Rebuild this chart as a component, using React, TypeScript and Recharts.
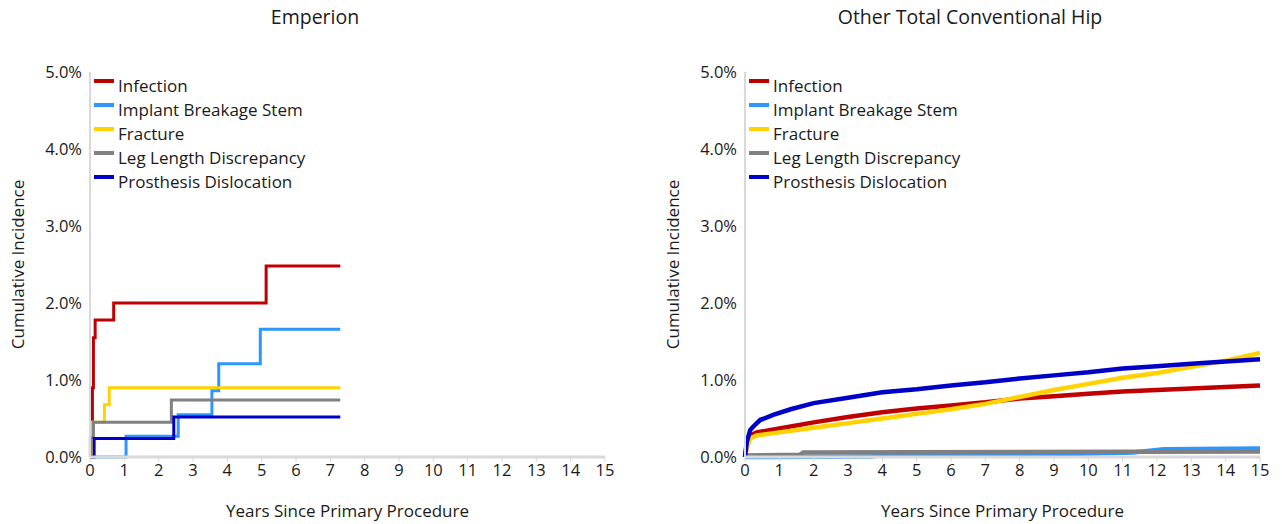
import React from "react";
import { LineChart, Line, XAxis, YAxis } from "recharts";

const seriesNames = ["Infection", "Implant Breakage Stem", "Fracture", "Leg Length Discrepancy", "Prosthesis Dislocation"];
const seriesColors = ["#C00000", "#2E96FF", "#FFD200", "#808080", "#0000C8"];
const xTicks = [0, 1, 2, 3, 4, 5, 6, 7, 8, 9, 10, 11, 12, 13, 14, 15];
const yTicks = [0, 1, 2, 3, 4, 5];

// Emperion (step curves)
const empInfectionX = [0, 0.07, 0.1, 0.15, 0.69, 5.13, 7.29];
const empInfectionY = [0, 0.9, 1.55, 1.78, 2.0, 2.48, 2.48];
const empStemX = [0, 1.05, 2.57, 3.55, 3.75, 4.96, 7.29];
const empStemY = [0, 0.27, 0.55, 0.86, 1.21, 1.66, 1.66];
const empFractureX = [0, 0.06, 0.42, 0.56, 7.29];
const empFractureY = [0, 0.45, 0.68, 0.9, 0.9];
const empLegX = [0, 0.01, 0.1, 2.37, 7.29];
const empLegY = [0, 0.25, 0.45, 0.74, 0.74];
const empDislocX = [0, 0.12, 2.44, 7.29];
const empDislocY = [0, 0.24, 0.52, 0.52];

// Other Total Conventional Hip
const othInfectionX = [0, 0.05, 0.15, 0.34, 1, 2, 3, 4, 5, 6, 7, 8, 9, 10, 11, 12, 13, 14, 15];
const othInfectionY = [0, 0.15, 0.28, 0.32, 0.37, 0.45, 0.52, 0.58, 0.63, 0.67, 0.71, 0.76, 0.79, 0.82, 0.85, 0.87, 0.89, 0.91, 0.93];
const othStemX = [0, 3.7, 3.8, 7.2, 8.8, 9.5, 11.3, 12.2, 15];
const othStemY = [0, 0.005, 0.015, 0.02, 0.03, 0.04, 0.06, 0.1, 0.11];
const othFractureX = [0, 0.05, 0.15, 0.34, 1, 2, 3, 4, 5, 6, 7, 8, 9, 10, 11, 12, 13, 14, 15];
const othFractureY = [0, 0.11, 0.24, 0.28, 0.32, 0.38, 0.44, 0.5, 0.56, 0.62, 0.69, 0.78, 0.87, 0.95, 1.03, 1.09, 1.17, 1.25, 1.35];
const othLegX = [0, 1.6, 1.7, 15];
const othLegY = [0.02, 0.03, 0.06, 0.07];
const othDislocX = [0, 0.05, 0.15, 0.25, 0.44, 0.84, 1.33, 2, 3, 4, 5, 6, 7, 8, 9, 10, 11, 12, 13, 14, 15];
const othDislocY = [0, 0.19, 0.35, 0.4, 0.48, 0.55, 0.62, 0.7, 0.77, 0.84, 0.88, 0.93, 0.97, 1.02, 1.06, 1.1, 1.15, 1.18, 1.21, 1.24, 1.27];

const zip = (xs: number[], ys: number[]) => xs.map((x, i) => ({ x, y: ys[i] }));

const empSeries = [
  zip(empInfectionX, empInfectionY),
  zip(empStemX, empStemY),
  zip(empFractureX, empFractureY),
  zip(empLegX, empLegY),
  zip(empDislocX, empDislocY),
];
const othSeries = [
  zip(othInfectionX, othInfectionY),
  zip(othStemX, othStemY),
  zip(othFractureX, othFractureY),
  zip(othLegX, othLegY),
  zip(othDislocX, othDislocY),
];

const FONT = "'Open Sans', 'Noto Sans', sans-serif";
const TXT = "#1a1a1a";

const LegendBox = () => (
  <div style={{ position: "absolute", left: 94, top: 74, fontFamily: FONT, fontSize: 17, color: TXT, lineHeight: "24px" }}>
    {seriesNames.map((n, i) => (
      <div key={n} style={{ display: "flex", alignItems: "center", height: 24, whiteSpace: "nowrap" }}>
        <div style={{ width: 20, height: 4, background: seriesColors[i], marginRight: 4, marginTop: -10 }} />
        <span>{n}</span>
      </div>
    ))}
  </div>
);

const Panel = ({ title, series, step, width }: { title: string; series: { x: number; y: number }[][]; step: boolean; width: number }) => (
  <div style={{ position: "relative", width: 640, height: 524 }}>
    <div style={{ position: "absolute", top: 3, left: 0, width: 630, textAlign: "center", fontFamily: FONT, fontSize: 19.5, color: TXT, whiteSpace: "nowrap" }}>{title}</div>
    <LineChart width={640} height={524} margin={{ top: 72, right: 35, bottom: 37, left: 30 }}>
      <XAxis
        type="number"
        dataKey="x"
        domain={[0, 15]}
        ticks={xTicks}
        interval={0}
        allowDuplicatedCategory={false}
        height={30}
        axisLine={{ stroke: "#d9d9d9", strokeWidth: 3 }}
        tickLine={{ stroke: "#d9d9d9" }}
        tickSize={5}
        tick={{ fill: TXT, fontSize: 16.5, fontFamily: FONT }}
        label={{ value: "Years Since Primary Procedure", position: "insideBottom", offset: -30, fill: TXT, fontSize: 17, fontFamily: FONT }}
      />
      <YAxis
        type="number"
        dataKey="y"
        domain={[0, 5]}
        ticks={yTicks}
        width={60}
        axisLine={{ stroke: "#d9d9d9", strokeWidth: 2 }}
        tickLine={false}
        tickFormatter={(v: number) => v.toFixed(1) + "%"}
        tick={{ fill: TXT, fontSize: 16.5, fontFamily: FONT }}
        label={{ value: "Cumulative Incidence", angle: -90, position: "insideLeft", offset: -12, style: { textAnchor: "middle" }, fill: TXT, fontSize: 17, fontFamily: FONT }}
      />
      {series.map((d, i) => (
        <Line
          key={seriesNames[i]}
          data={d}
          dataKey="y"
          name={seriesNames[i]}
          type={step ? "stepAfter" : "linear"}
          stroke={seriesColors[i]}
          strokeWidth={width}
          dot={false}
          activeDot={false}
          isAnimationActive={false}
        />
      ))}
    </LineChart>
    <LegendBox />
  </div>
);

export default function App() {
  return (
    <div style={{ position: "absolute", left: 0, top: 0, width: 1282, height: 524, background: "#fff" }}>
      <div style={{ position: "absolute", left: 0, top: 0 }}>
        <Panel title="Emperion" series={empSeries} step={true} width={3} />
      </div>
      <div style={{ position: "absolute", left: 655, top: 0 }}>
        <Panel title="Other Total Conventional Hip" series={othSeries} step={false} width={4.5} />
      </div>
    </div>
  );
}
